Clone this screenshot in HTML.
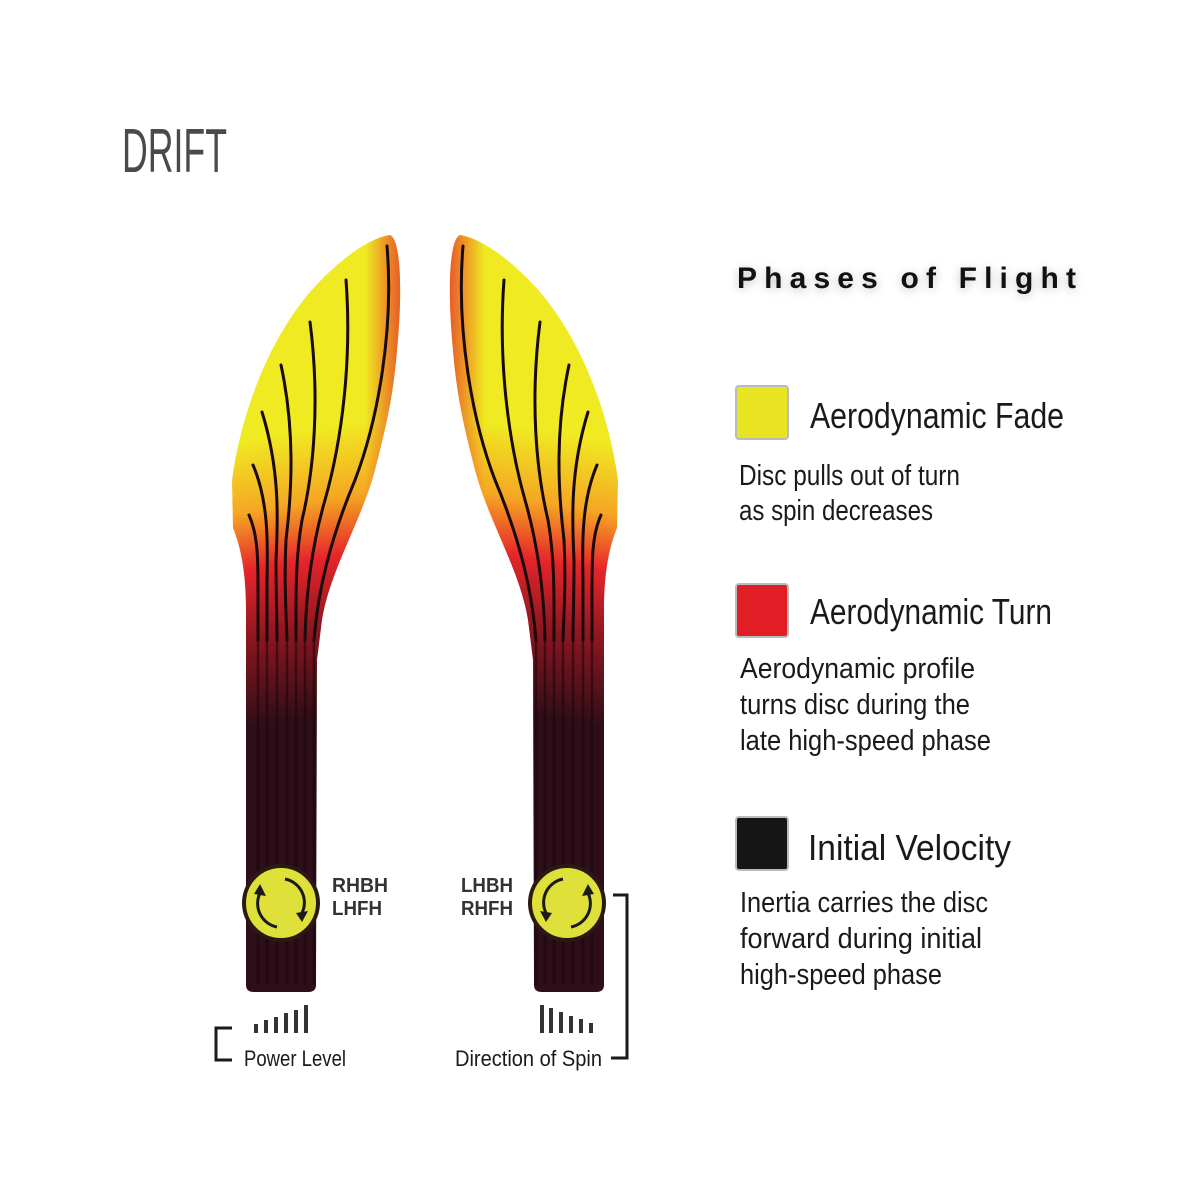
<!DOCTYPE html>
<html><head><meta charset="utf-8"><style>
html,body{margin:0;padding:0;background:#fff;}
svg{display:block;}
.c{font-family:"Liberation Sans Narrow","Liberation Sans",sans-serif;fill:#1a1a1a;}
</style></head><body>
<svg width="1200" height="1200" viewBox="0 0 1200 1200" xmlns="http://www.w3.org/2000/svg">
<defs>
<linearGradient id="g" gradientUnits="userSpaceOnUse" x1="250" y1="440" x2="295" y2="720">
<stop offset="0" stop-color="#f0ea22"/>
<stop offset="0.25" stop-color="#f5a623"/>
<stop offset="0.45" stop-color="#e6252a"/>
<stop offset="0.7" stop-color="#8a1620"/>
<stop offset="1" stop-color="#2e0e18"/>
</linearGradient>
<linearGradient id="h" gradientUnits="userSpaceOnUse" x1="300" y1="300" x2="400" y2="300">
<stop offset="0" stop-color="#e6252a" stop-opacity="0"/>
<stop offset="0.65" stop-color="#e6252a" stop-opacity="0"/>
<stop offset="1" stop-color="#e6252a" stop-opacity="0.9"/>
</linearGradient>
<filter id="blur" x="-10%" y="-50%" width="120%" height="200%"><feGaussianBlur stdDeviation="5"/></filter>
<path id="outline" d="M246,985 L246,610 C246,570 240,545 233,528 L232,480 C240,420 265,345 310,292 C340,258 370,238 390,235 C402,240 402,300 397,350 C393,400 385,430 375,470 C362,520 330,570 322,620 L317,660 L316,985 Q316,992 308,992 L254,992 Q246,992 246,985 Z"/>
<g id="shape">
<use href="#outline" fill="url(#g)"/>
<use href="#outline" fill="url(#h)" opacity="0.8"/>
<g fill="none" stroke="#1a0a0a" stroke-width="3" stroke-linecap="round">
<path d="M387,246 C394,330 378,420 355,480 C330,540 318,590 314,640"/>
<path d="M346,280 C352,360 342,440 325,500 C312,545 306,590 305,640"/>
<path d="M310,322 C320,400 314,470 302,520 C295,560 296,600 296,640"/>
<path d="M281,365 C295,430 292,490 286,540 C284,580 286,610 287,640"/>
<path d="M262,412 C280,470 278,520 276,560 C276,600 277,620 277,640"/>
<path d="M253,465 C268,500 268,540 267,580 L267,640"/>
<path d="M249,515 C258,535 258,560 258,590 L258,640"/>
</g>
<g stroke="#1a0508" stroke-width="2.5" opacity="0.55">
<line x1="258" y1="640" x2="258" y2="985"/><line x1="267" y1="640" x2="267" y2="985"/>
<line x1="277" y1="640" x2="277" y2="985"/><line x1="287" y1="640" x2="287" y2="985"/>
<line x1="296" y1="640" x2="296" y2="985"/><line x1="305" y1="640" x2="305" y2="985"/>
<line x1="314" y1="640" x2="314" y2="985"/>
</g>
</g>
</defs>
<text x="122" y="172" font-family="Liberation Sans Narrow, Liberation Sans, sans-serif" font-size="62" fill="#4a4a4a" textLength="105" lengthAdjust="spacingAndGlyphs">DRIFT</text>

<use href="#shape"/>
<use href="#shape" transform="translate(850,0) scale(-1,1)"/>

<circle cx="281" cy="903" r="37" fill="#e0e03a" stroke="#2a1a14" stroke-width="4"/>
<g fill="none" stroke="#1a1a1a" stroke-width="3">
<path d="M285,879 A24,24 0 0 1 302,913"/>
<path d="M277,927 A24,24 0 0 1 260,893"/>
</g>
<path d="M296,913 L302,922 L308,911 Z" fill="#1a1a1a"/>
<path d="M254,894 L260,884 L266,896 Z" fill="#1a1a1a"/>
<circle cx="567" cy="903" r="37" fill="#e0e03a" stroke="#2a1a14" stroke-width="4"/>
<g fill="none" stroke="#1a1a1a" stroke-width="3">
<path d="M563,879 A24,24 0 0 0 546,913"/>
<path d="M571,927 A24,24 0 0 0 588,893"/>
</g>
<path d="M540,911 L546,922 L552,913 Z" fill="#1a1a1a"/>
<path d="M582,896 L588,884 L594,894 Z" fill="#1a1a1a"/>

<g font-family="Liberation Sans, sans-serif" font-weight="bold" font-size="20" fill="#333">
<text x="332" y="892" textLength="56" lengthAdjust="spacingAndGlyphs">RHBH</text>
<text x="332" y="915" textLength="50" lengthAdjust="spacingAndGlyphs">LHFH</text>
<text x="461" y="892" textLength="52" lengthAdjust="spacingAndGlyphs">LHBH</text>
<text x="461" y="915" textLength="52" lengthAdjust="spacingAndGlyphs">RHFH</text>
</g>

<g fill="#333">
<rect x="254" y="1024" width="4" height="9"/><rect x="264" y="1020" width="4" height="13"/>
<rect x="274" y="1017" width="4" height="16"/><rect x="284" y="1013" width="4" height="20"/>
<rect x="294" y="1010" width="4" height="23"/><rect x="304" y="1005" width="4" height="28"/>
<rect x="540" y="1005" width="4" height="28"/><rect x="549" y="1008" width="4" height="25"/>
<rect x="559" y="1012" width="4" height="21"/><rect x="569" y="1016" width="4" height="17"/>
<rect x="579" y="1019" width="4" height="14"/><rect x="589" y="1023" width="4" height="10"/>
</g>
<g fill="none" stroke="#1a1a1a" stroke-width="3">
<path d="M232,1028 L216,1028 L216,1060 L232,1060"/>
<path d="M613,895 L627,895 L627,1058 L611,1058"/>
</g>
<text class="c" x="244" y="1066" font-size="22" textLength="102" lengthAdjust="spacingAndGlyphs">Power Level</text>
<text class="c" x="455" y="1066" font-size="22" textLength="147" lengthAdjust="spacingAndGlyphs">Direction of Spin</text>

<text x="737" y="290" font-family="Liberation Sans, sans-serif" font-weight="bold" font-size="30" fill="#000" opacity="0.25" filter="url(#blur)" textLength="339" lengthAdjust="spacing">Phases of Flight</text>
<text x="737" y="288" font-family="Liberation Sans, sans-serif" font-weight="bold" font-size="30" fill="#111" textLength="339" lengthAdjust="spacing">Phases of Flight</text>

<rect x="736" y="386" width="52" height="53" rx="3" fill="#e8e422" stroke="#bbb" stroke-width="2"/>
<rect x="736" y="584" width="52" height="53" rx="3" fill="#e11e26" stroke="#bbb" stroke-width="2"/>
<rect x="736" y="817" width="52" height="53" rx="3" fill="#151515" stroke="#bbb" stroke-width="2"/>

<g class="c">
<text class="c" x="810" y="428" font-size="36" textLength="254" lengthAdjust="spacingAndGlyphs">Aerodynamic Fade</text>
<text class="c" x="739" y="485" font-size="29" textLength="221" lengthAdjust="spacingAndGlyphs">Disc pulls out of turn</text>
<text class="c" x="739" y="520" font-size="29" textLength="194" lengthAdjust="spacingAndGlyphs">as spin decreases</text>
<text class="c" x="810" y="624" font-size="36" textLength="242" lengthAdjust="spacingAndGlyphs">Aerodynamic Turn</text>
<text class="c" x="740" y="678" font-size="29" textLength="235" lengthAdjust="spacingAndGlyphs">Aerodynamic profile</text>
<text class="c" x="740" y="714" font-size="29" textLength="230" lengthAdjust="spacingAndGlyphs">turns disc during the</text>
<text class="c" x="740" y="750" font-size="29" textLength="251" lengthAdjust="spacingAndGlyphs">late high-speed phase</text>
<text class="c" x="808" y="860" font-size="36" textLength="203" lengthAdjust="spacingAndGlyphs">Initial Velocity</text>
<text class="c" x="740" y="912" font-size="29" textLength="248" lengthAdjust="spacingAndGlyphs">Inertia carries the disc</text>
<text class="c" x="740" y="948" font-size="29" textLength="242" lengthAdjust="spacingAndGlyphs">forward during initial</text>
<text class="c" x="740" y="984" font-size="29" textLength="202" lengthAdjust="spacingAndGlyphs">high-speed phase</text>
</g>
</svg>
</body></html>
